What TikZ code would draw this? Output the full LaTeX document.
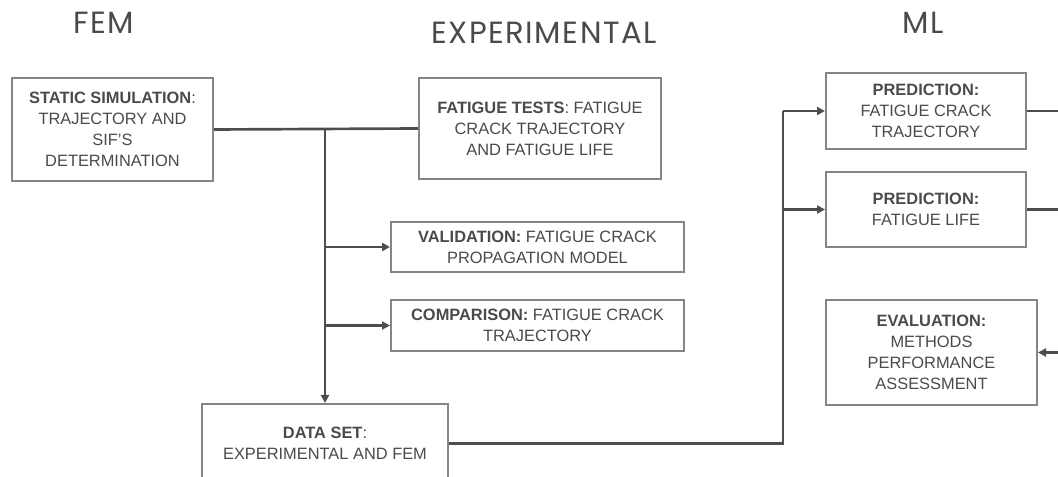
\documentclass[tikz,border=0pt]{standalone}
\usepackage{fontspec}
\setmainfont{Liberation Sans}
\newfontfamily\headfont{Poppins}[LetterSpace=5]
\usetikzlibrary{arrows.meta}

\definecolor{boxgray}{HTML}{858585}
\definecolor{linegray}{HTML}{4D4D4D}
\definecolor{txtgray}{HTML}{4A4A4A}

\begin{document}
\begin{tikzpicture}[
    x=0.75pt, y=-0.75pt,
    box/.style 2 args={
        draw=boxgray,
        line width=1.5pt,
        minimum width=#1,
        minimum height=#2,
        inner sep=0pt,
        align=center,
        text=txtgray,
        font=\fontsize{12.3}{15.75}\selectfont
    },
    head/.style={
        inner sep=0pt,
        text=txtgray,
        font=\headfont\fontsize{23}{27}\selectfont
    },
    link/.style={
        draw=linegray,
        line width=2pt
    },
    arrow/.style={
        link,
        -{Triangle[length=6pt,width=6pt]}
    }
]
\useasboundingbox (0,0) rectangle (1058,477);

% Titres
\node[head] (fem) at (104,23) {FEM};
\node[head] (expe) at (544,32.5) {EXPERIMENTAL};
\node[head] (ml) at (923,23) {ML};

% Noeuds
\node[box={150.75pt}{77.25pt}] (sim) at (112.5,129.5)
    {\textbf{STATIC SIMULATION}:\\TRAJECTORY AND\\SIF'S\\DETERMINATION};
\node[box={181.5pt}{75.75pt}] (tests) at (540,128.5)
    {\textbf{FATIGUE TESTS}: FATIGUE\\CRACK TRAJECTORY\\AND FATIGUE LIFE};
\node[box={219.75pt}{37.5pt}] (valid) at (537.5,247)
    {\textbf{VALIDATION:} FATIGUE CRACK\\PROPAGATION MODEL};
\node[box={219.75pt}{38.25pt}] (comp) at (537.5,325.5)
    {\textbf{COMPARISON:} FATIGUE CRACK\\TRAJECTORY};
\node[box={184.5pt}{59.25pt}] (data) at (325,443.5)
    {\textbf{DATA SET}:\\EXPERIMENTAL AND FEM};
\node[box={150pt}{57pt}] (predcrack) at (926,111)
    {\textbf{PREDICTION:}\\FATIGUE CRACK\\TRAJECTORY};
\node[box={150pt}{56.25pt}] (predlife) at (926,209.5)
    {\textbf{PREDICTION:}\\FATIGUE LIFE};
\node[box={158.25pt}{78.75pt}] (eval) at (931.5,352.5)
    {\textbf{EVALUATION:}\\METHODS\\PERFORMANCE\\ASSESSMENT};

% Points de jonction
\coordinate (split) at (data.north |- sim.east);
\coordinate (mlbus) at (783,443.5);
\coordinate (offright) at (1080,352.5);

% Fleches
\draw[link] (sim.east) -- (tests.west);
\draw[arrow] (split) -- (data.north);
\draw[arrow] (split |- valid.west) -- (valid.west);
\draw[arrow] (split |- comp.west) -- (comp.west);
\draw[link] (data.east) -- (mlbus) -- (mlbus |- predcrack.west);
\draw[arrow] (mlbus |- predcrack.west) -- (predcrack.west);
\draw[arrow] (mlbus |- predlife.west) -- (predlife.west);

% Sortie a droite
\draw[link] (predcrack.east) -| (offright);
\draw[link] (predlife.east) -- (predlife.east -| offright);
\draw[arrow] (offright) -- (eval.east);

\end{tikzpicture}
\end{document}
